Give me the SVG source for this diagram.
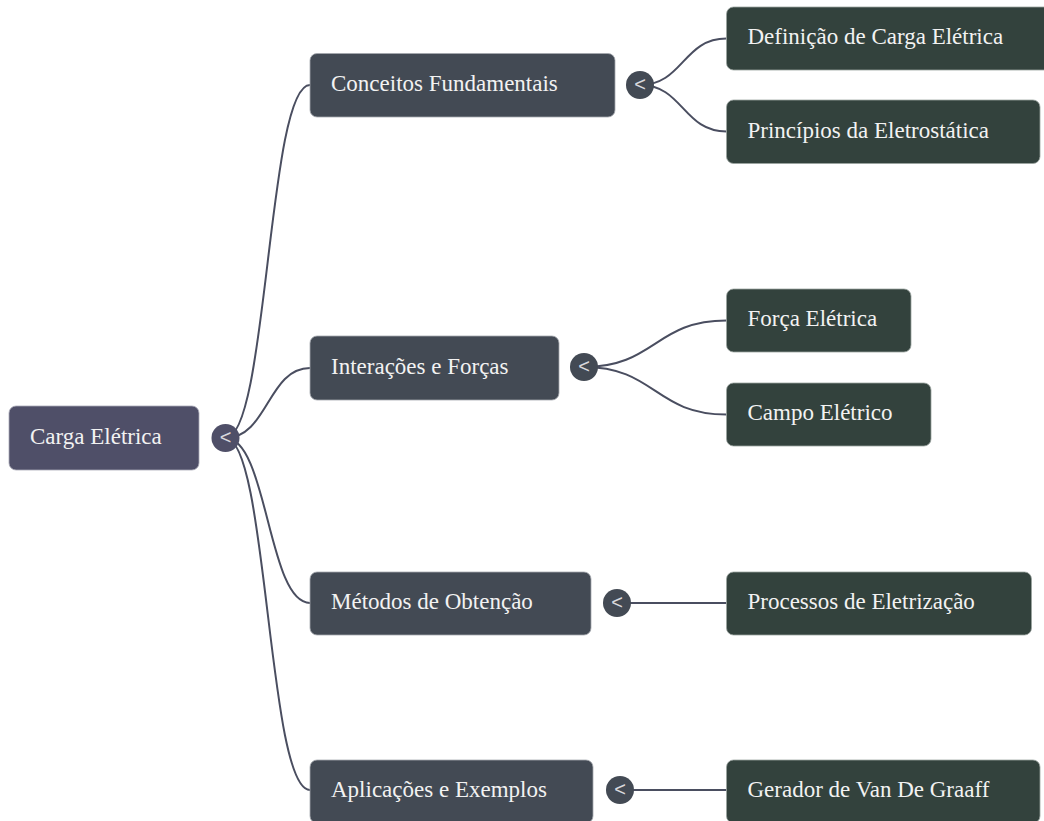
<svg xmlns="http://www.w3.org/2000/svg" width="1044" height="821" viewBox="0 0 1044 821">
<style>
.root{fill:#4f4f68;stroke:#a9a9b8;stroke-width:0.8}
.l1{fill:#434a54;stroke:#a4a8ae;stroke-width:0.8}
.l2{fill:#33423d;stroke:#9aa39f;stroke-width:0.8}
.t{font-size:23px;fill:#f2f2f2}
.tg{font-size:20px;fill:#d8d8dc;text-anchor:middle;dominant-baseline:central}
.c0{fill:#4f4f68}
.c1{fill:#434a54}
.lk{fill:none;stroke:#4a4e60;stroke-width:2}
</style>
<rect width="1044" height="821" fill="#ffffff"/>
<g id="connectors">
<path class="lk" d="M225.5 438 C267.75 438 267.75 85 310 85"/>
<path class="lk" d="M225.5 438 C267.75 438 267.75 368 310 368"/>
<path class="lk" d="M225.5 438 C267.75 438 267.75 603 310 603"/>
<path class="lk" d="M225.5 438 C267.75 438 267.75 790 310 790"/>
<path class="lk" d="M640 85 C683 85 683 38.5 726.5 38.5"/>
<path class="lk" d="M640 85 C683 85 683 131.5 726.5 131.5"/>
<path class="lk" d="M584 367 C655 367 655 320.5 726.5 320.5"/>
<path class="lk" d="M584 367 C655 367 655 414.5 726.5 414.5"/>
<path class="lk" d="M617 603 L726.5 603"/>
<path class="lk" d="M620 790 L726.5 790"/>
</g>
<g font-family="Liberation Serif, 'Times New Roman', serif">
<g id="n-root">
<rect class="root" x="9" y="406" width="190" height="64" rx="7"/>
<text class="t" x="30" y="443.5">Carga Elétrica</text>
<circle class="c0" cx="225.5" cy="438" r="14"/>
<text class="tg" x="225.5" y="437" font-family="Liberation Sans, Arial, sans-serif">&lt;</text>
</g>
<g id="n-conceitos">
<rect class="l1" x="310" y="53.5" width="305" height="63.5" rx="7"/>
<text class="t" x="331" y="91">Conceitos Fundamentais</text>
<circle class="c1" cx="640" cy="85" r="14"/>
<text class="tg" x="640" y="84" font-family="Liberation Sans, Arial, sans-serif">&lt;</text>
</g>
<g id="n-interacoes">
<rect class="l1" x="310" y="336" width="249" height="64" rx="7"/>
<text class="t" x="331" y="373.5">Interações e Forças</text>
<circle class="c1" cx="584" cy="367" r="14"/>
<text class="tg" x="584" y="366" font-family="Liberation Sans, Arial, sans-serif">&lt;</text>
</g>
<g id="n-metodos">
<rect class="l1" x="310" y="572" width="281" height="63" rx="7"/>
<text class="t" x="331" y="609">Métodos de Obtenção</text>
<circle class="c1" cx="617" cy="603" r="14"/>
<text class="tg" x="617" y="602" font-family="Liberation Sans, Arial, sans-serif">&lt;</text>
</g>
<g id="n-aplicacoes">
<rect class="l1" x="310" y="760" width="283" height="63" rx="7"/>
<text class="t" x="331" y="797">Aplicações e Exemplos</text>
<circle class="c1" cx="620" cy="790" r="14"/>
<text class="tg" x="620" y="789" font-family="Liberation Sans, Arial, sans-serif">&lt;</text>
</g>
<g id="n-definicao">
<rect class="l2" x="726.5" y="7" width="330" height="63" rx="7"/>
<text class="t" x="747.5" y="44">Definição de Carga Elétrica</text>
</g>
<g id="n-principios">
<rect class="l2" x="726.5" y="100" width="313.5" height="63.5" rx="7"/>
<text class="t" x="747.5" y="137.5">Princípios da Eletrostática</text>
</g>
<g id="n-forca">
<rect class="l2" x="726.5" y="289" width="184.5" height="63" rx="7"/>
<text class="t" x="747.5" y="326">Força Elétrica</text>
</g>
<g id="n-campo">
<rect class="l2" x="726.5" y="383" width="204.5" height="63" rx="7"/>
<text class="t" x="747.5" y="420">Campo Elétrico</text>
</g>
<g id="n-processos">
<rect class="l2" x="726.5" y="572" width="305" height="63" rx="7"/>
<text class="t" x="747.5" y="609">Processos de Eletrização</text>
</g>
<g id="n-gerador">
<rect class="l2" x="726.5" y="760" width="313.5" height="63" rx="7"/>
<text class="t" x="747.5" y="797">Gerador de Van De Graaff</text>
</g>
</g>
</svg>
